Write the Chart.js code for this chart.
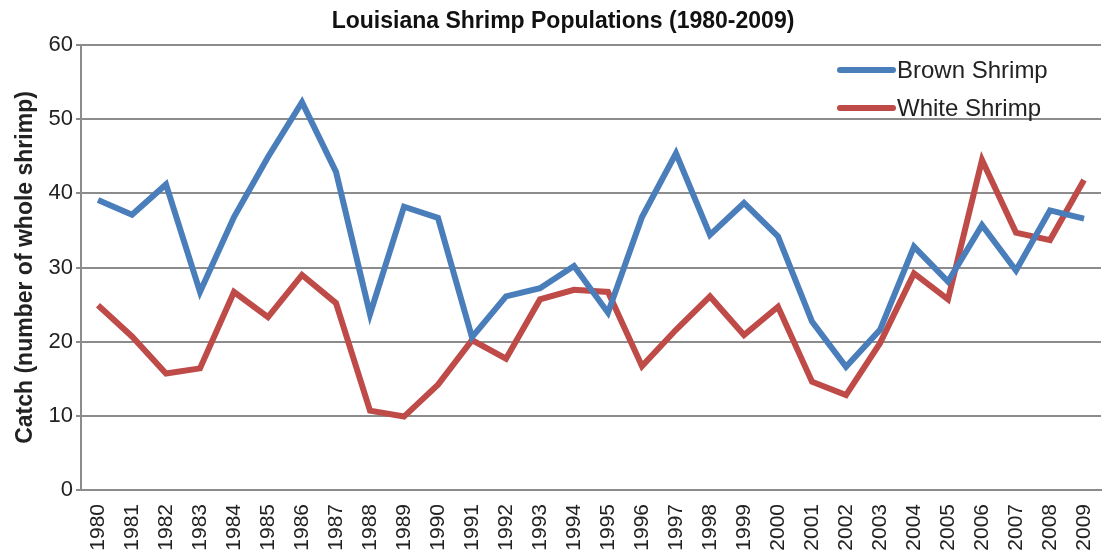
<!DOCTYPE html>
<html>
<head>
<meta charset="utf-8">
<script src="https://cdn.jsdelivr.net/npm/chart.js@4"></script>
<style>
  html, body { margin: 0; padding: 0; background: #fff; }
  #shrimp-chart { display: block; }
</style>
</head>
<body>
<canvas id="shrimp-chart" width="1102" height="554"></canvas>
<script>
// values
const years = ['1980','1981','1982','1983','1984','1985','1986','1987','1988','1989',
               '1990','1991','1992','1993','1994','1995','1996','1997','1998','1999',
               '2000','2001','2002','2003','2004','2005','2006','2007','2008','2009'];
const brownShrimp = [39.1, 37.1, 41.2, 26.7, 36.8, 44.9, 52.3, 42.9, 23.7, 38.2,
                     36.7, 20.6, 26.1, 27.2, 30.2, 23.9, 36.8, 45.4, 34.4, 38.7,
                     34.2, 22.7, 16.6, 21.6, 32.8, 28.1, 35.7, 29.6, 37.7, 36.6];
const whiteShrimp = [24.9, 20.7, 15.7, 16.4, 26.7, 23.3, 29.0, 25.2, 10.7, 9.9,
                     14.2, 20.2, 17.7, 25.7, 27.0, 26.7, 16.7, 21.6, 26.1, 20.9,
                     24.7, 14.6, 12.8, 19.8, 29.2, 25.7, 44.5, 34.7, 33.7, 41.8];
const yMin = 0;
const yMax = 60;
const yStep = 10;

const chartTitle = 'Louisiana Shrimp Populations (1980-2009)';
const yTitle = 'Catch (number of whole shrimp)';

const fontFamily = '"Liberation Sans", Arial, sans-serif';

// title + legend drawn by hand so they sit where the reference has them
const titleAndLegend = {
    id: 'titleAndLegend',
    afterDraw(chart){
        let ctx = chart.ctx;
        let area = chart.chartArea;
        ctx.save();
        ctx.fillStyle = '#111';
        ctx.font = 'bold 23px ' + fontFamily;
        ctx.textAlign = 'center';
        ctx.textBaseline = 'middle';
        ctx.fillText(chartTitle, 563, 22);

        ctx.font = '24px ' + fontFamily;
        ctx.textAlign = 'left';
        chart.data.datasets.forEach((ds, i)=>{
            let y = area.top + 25 + i * 38;
            let x = area.right - 261;
            ctx.strokeStyle = ds.borderColor;
            ctx.lineWidth = 6;
            ctx.lineCap = 'round';
            ctx.beginPath();
            ctx.moveTo(x, y);
            ctx.lineTo(x + 53, y);
            ctx.stroke();
            ctx.fillStyle = '#222';
            ctx.fillText(ds.label, x + 57, y + 1);
        });
        ctx.restore();
    }
};

let canvas = document.querySelector('#shrimp-chart');
new Chart(canvas, {
    type: 'line',
    data: {
        labels: years,
        datasets: [{
            label: 'Brown Shrimp',
            data: brownShrimp,
            borderColor: '#4a7ebb',
            borderWidth: 6,
            pointRadius: 0,
            tension: 0
        }, {
            label: 'White Shrimp',
            data: whiteShrimp,
            borderColor: '#be4b48',
            borderWidth: 6,
            pointRadius: 0,
            tension: 0
        }]
    },
    options: {
        responsive: false,
        animation: false,
        layout: { padding: { top: 45, right: 1, left: 0, bottom: 0 } },
        plugins: {
            legend: { display: false },
            title: { display: false },
            tooltip: { enabled: false }
        },
        scales: {
            x: {
                offset: true,
                grid: { display: false },
                border: { color: '#8c8c8c', width: 2 },
                ticks: {
                    autoSkip: false,
                    minRotation: 90,
                    maxRotation: 90,
                    padding: 6,
                    color: '#222',
                    font: { family: fontFamily, size: 21 }
                },
                afterFit(scale){
                    scale.height = 64;
                    scale.paddingLeft = 0;
                    scale.paddingRight = 0;
                }
            },
            y: {
                min: yMin,
                max: yMax,
                ticks: {
                    stepSize: yStep,
                    padding: 3,
                    color: '#222',
                    font: { family: fontFamily, size: 22 }
                },
                grid: { color: '#8c8c8c', lineWidth: 2, tickLength: 5 },
                border: { color: '#8c8c8c', width: 2 },
                title: {
                    display: true,
                    text: yTitle,
                    color: '#222',
                    padding: { top: 12, bottom: 0 },
                    font: { family: fontFamily, size: 23, weight: 'bold' }
                },
                afterFit(scale){ scale.width = 81; }
            }
        }
    },
    plugins: [titleAndLegend]
});
</script>
</body>
</html>
